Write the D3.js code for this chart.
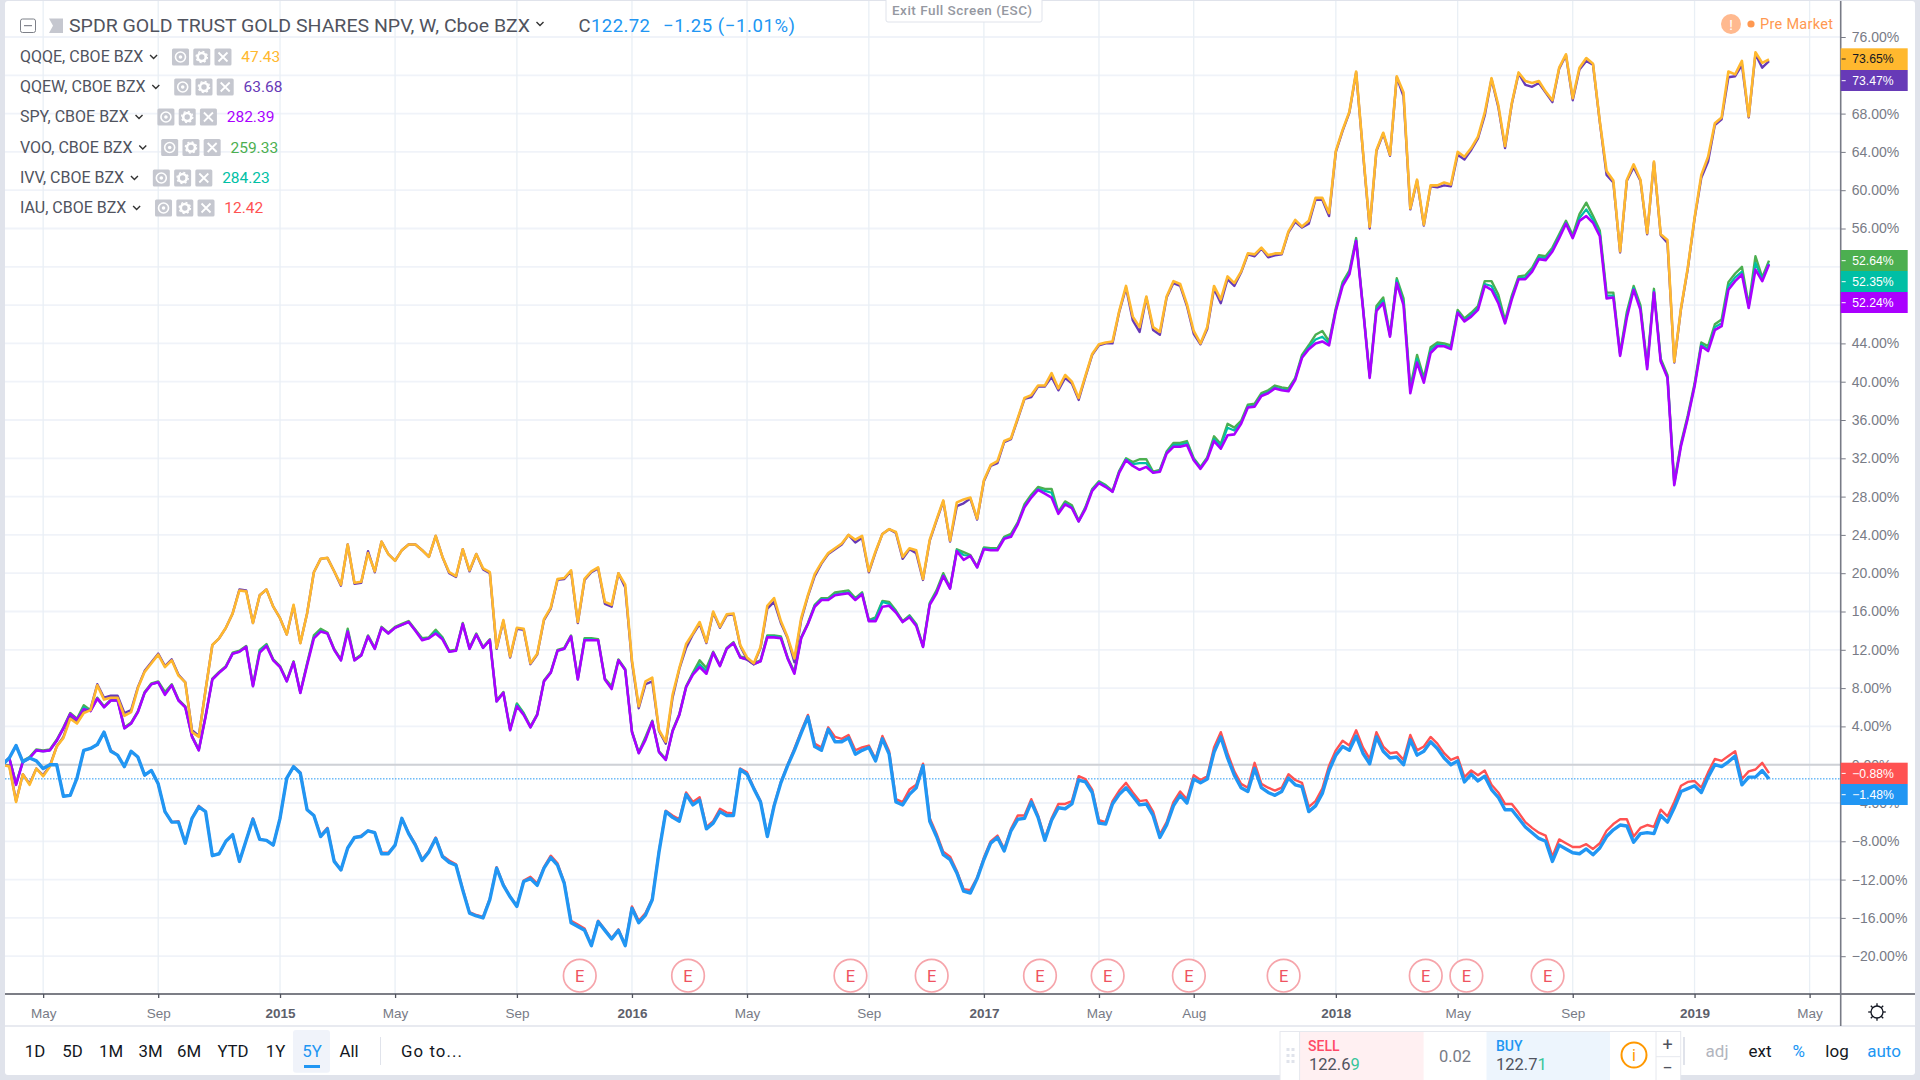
<!DOCTYPE html>
<html><head><meta charset="utf-8">
<script src="https://cdn.jsdelivr.net/npm/d3@7/dist/d3.min.js"></script>
<style>html,body{margin:0;padding:0;background:#e0e3eb;overflow:hidden}svg{display:block}text{font-family:"Liberation Sans",Arial,sans-serif}.r{font-family:Roboto,sans-serif}</style>
</head><body><svg id="c" width="1920" height="1080"></svg>
<script>
const firstWeek="2014-03-24";
const qqqe=[0,-0.2,-3.9,-1.0,-2.1,-0.4,-1.2,-0.2,1.9,2.8,4.8,4.3,5.4,5.7,8.3,6.8,7.0,7.0,5.1,5.5,8.0,
9.7,10.6,11.5,10.2,10.9,9.3,8.6,3.4,2.9,7.8,12.5,13.2,14.3,15.8,18.2,18.1,14.8,17.7,18.3,16.5,
15.3,13.6,16.7,12.7,15.8,20.1,21.5,21.6,20.2,18.8,23.0,19.0,19.1,22.1,20.2,23.3,22.0,21.3,22.4,23.0,
23.0,22.4,21.7,23.9,21.7,20.1,19.7,22.5,20.3,22.0,20.5,20.1,12.2,15.1,11.3,14.3,14.2,10.6,11.6,15.2,
16.4,19.4,19.5,20.3,14.9,19.4,20.2,20.6,17.0,16.7,20.0,18.8,10.9,6.1,8.7,9.1,3.6,2.4,7.3,10.1,
12.6,13.7,14.9,12.8,16.0,14.4,15.7,15.8,12.5,11.2,10.6,12.3,16.6,17.4,15.0,13.3,11.1,15.3,17.7,19.9,
21.1,22.1,22.6,23.1,24.0,23.5,23.9,20.2,22.3,24.1,24.6,24.3,21.7,22.6,22.4,19.4,23.5,25.6,27.6,23.4,
27.4,27.7,27.9,25.7,29.7,31.3,31.7,33.8,34.1,36.2,38.3,38.6,39.6,39.6,40.9,39.3,40.7,40.0,38.3,40.6,
42.9,43.9,44.1,44.2,47.4,50.0,46.8,45.7,48.9,45.7,45.2,48.9,50.5,50.2,48.1,45.3,44.0,45.7,50.0,48.6,
51.0,50.3,51.5,53.4,53.3,54.0,53.2,53.4,53.4,55.7,56.9,56.2,56.8,59.2,59.2,57.6,64.1,66.3,68.2,72.4,
64.1,56.2,64.2,66.0,63.7,71.9,70.2,58.1,61.1,56.4,60.5,60.5,60.8,60.6,64.0,63.5,64.4,65.6,68.1,71.7,
68.9,64.6,69.1,72.3,71.4,71.2,71.4,70.3,69.4,72.8,74.2,69.6,72.8,73.8,73.2,67.2,62.0,61.0,53.6,61.1,
62.7,61.1,55.5,63.0,55.4,54.8,42.1,47.7,51.9,57.1,61.6,63.5,67.0,67.6,72.4,72.1,73.5,67.7,74.4,73.3,73.65];
const qqew=[0,-0.1,-3.8,-1.0,-2.0,-0.4,-1.1,-0.1,1.9,2.9,5.0,4.4,5.5,5.8,8.4,7.0,7.2,7.2,5.4,5.7,8.1,
9.8,10.7,11.6,10.3,11.0,9.4,8.6,3.6,3.0,7.8,12.5,13.2,14.3,15.8,18.3,18.2,14.8,17.7,18.3,16.5,
15.3,13.6,16.6,12.7,15.8,20.1,21.5,21.6,20.2,18.7,23.0,18.9,19.0,22.3,20.1,23.3,22.0,21.3,22.4,23.0,
23.0,22.4,21.7,23.9,21.7,20.0,19.6,22.5,20.2,22.0,20.4,20.0,12.1,15.0,11.2,14.2,14.1,10.5,11.5,15.1,
16.3,19.3,19.4,20.2,14.8,19.3,20.1,20.5,16.8,16.5,20.0,18.5,10.7,5.9,8.4,8.7,3.5,2.2,7.0,10.0,
12.2,13.6,14.7,12.7,15.9,14.3,15.6,15.7,12.4,11.0,10.5,12.2,16.3,17.0,14.8,13.2,10.7,15.1,17.6,19.7,
21.0,22.0,22.5,23.0,24.0,23.2,23.7,20.1,22.2,24.1,24.6,24.2,21.5,22.5,22.1,19.3,23.4,25.5,27.5,23.3,
27.0,27.3,27.8,25.6,29.6,31.2,31.5,33.7,34.0,36.1,38.2,38.4,39.5,39.5,40.5,39.1,40.4,39.8,38.1,40.5,
42.8,43.8,44.0,44.0,47.3,49.8,46.4,45.2,48.8,45.4,44.9,48.8,50.3,50.0,47.9,45.0,43.9,45.5,49.7,48.2,
50.7,50.0,51.4,53.3,53.1,53.9,53.0,53.2,53.3,55.6,56.7,56.1,56.5,59.0,59.0,57.3,64.0,66.2,68.1,72.3,
64.0,56.0,64.1,65.9,63.6,71.8,69.8,58.0,61.0,56.3,60.4,60.3,60.5,60.4,63.7,63.2,64.2,65.4,67.8,71.6,
68.7,64.4,69.0,72.2,71.0,70.8,71.2,70.2,69.2,72.7,74.1,69.4,72.6,73.5,73.1,67.1,61.6,60.8,53.5,61.0,
62.4,61.0,55.4,62.9,55.3,54.5,42.0,47.6,51.8,57.0,61.3,63.0,66.8,67.4,71.8,71.9,73.1,67.6,74.2,72.8,73.47];
const spy=[0,0.7,-2.1,0.3,0.7,1.5,1.4,1.5,2.5,3.8,5.3,4.7,5.8,5.6,6.9,6.0,6.7,6.7,3.8,4.3,5.5,
7.5,8.4,8.6,7.3,8.3,6.7,6.0,2.9,1.5,5.0,8.9,9.6,10.2,11.6,11.8,12.3,8.2,11.7,12.4,10.9,
10.2,8.7,10.7,7.5,10.4,13.2,13.9,13.7,12.0,10.9,13.9,10.9,11.4,13.4,12.1,14.3,13.7,14.3,14.6,14.9,
14.0,13.0,13.2,13.7,13.1,11.8,11.9,14.7,12.1,13.6,12.2,13.0,6.6,7.5,3.6,6.1,5.2,3.9,5.2,8.7,
9.6,11.9,12.1,13.4,8.9,13.0,13.0,13.0,8.9,7.9,10.9,9.9,3.4,1.2,2.6,4.5,1.3,0.5,3.5,5.2,
8.1,9.4,10.2,9.5,11.7,10.3,12.1,12.7,11.2,11.0,10.5,10.8,13.3,13.3,13.2,11.1,9.5,13.2,14.7,16.5,
17.2,17.2,17.7,17.8,17.9,17.2,17.8,15.0,15.0,16.5,16.6,15.9,14.9,15.4,14.5,12.3,16.7,17.9,19.7,18.4,
22.3,21.4,21.8,20.6,22.5,22.4,22.4,23.6,23.8,25.1,26.9,27.9,28.7,28.3,27.9,26.2,27.2,26.8,25.4,26.7,
28.6,29.4,29.0,28.5,30.5,31.8,31.2,30.8,31.1,30.5,30.6,32.5,33.2,33.2,33.4,31.8,30.9,31.9,33.8,33.0,
34.4,34.5,35.6,37.3,37.4,38.5,38.8,39.3,39.1,39.0,40.2,42.5,43.4,44.0,44.2,43.8,47.4,50.0,51.2,54.7,
47.7,40.4,47.4,48.2,44.7,50.3,48.0,38.8,42.0,39.9,43.0,43.7,43.7,43.4,47.2,46.3,46.8,47.5,50.0,49.6,
48.2,46.1,48.6,50.7,50.7,51.5,52.8,52.7,53.6,55.0,56.5,55.0,56.8,57.3,56.6,55.2,48.7,48.8,42.7,46.7,
49.6,47.5,41.3,49.3,42.1,40.4,29.2,33.3,36.2,39.5,43.7,43.2,45.4,45.8,49.6,50.5,51.2,47.7,51.7,50.5,52.24];
const voo=[0,0.7,-2.0,0.4,0.8,1.6,1.5,1.6,2.6,3.9,5.4,4.8,6.2,5.7,7.0,6.1,6.8,6.8,3.9,4.4,5.6,
7.6,8.5,8.7,7.6,8.4,6.8,6.1,3.0,1.6,5.1,9.0,9.7,10.3,11.7,11.9,12.4,8.3,12.0,12.6,11.0,
10.3,8.8,10.8,7.6,10.6,13.5,14.2,13.8,12.1,11.0,14.2,11.0,11.5,13.5,12.2,14.4,13.8,14.4,14.7,15.0,
14.1,13.2,13.3,14.1,13.3,11.9,12.0,14.8,12.2,13.7,12.3,13.1,6.7,7.6,3.7,6.4,5.4,4.0,5.3,8.8,
9.7,12.0,12.2,13.5,9.0,13.2,13.2,13.1,9.0,8.2,11.0,10.0,3.5,1.3,2.9,4.6,1.4,0.6,3.6,5.3,
8.2,9.6,10.9,10.1,11.8,10.4,12.2,12.8,11.3,11.1,10.6,10.9,13.5,13.5,13.4,11.2,9.7,13.3,14.8,16.7,
17.4,17.4,18.0,18.1,18.2,17.4,18.0,15.1,15.4,17.1,17.0,16.1,15.0,15.6,14.7,12.4,16.9,18.2,20.0,18.5,
22.5,22.2,21.9,20.7,22.7,22.6,22.6,23.8,24.1,25.3,27.2,28.2,29.0,28.8,28.8,26.4,27.5,27.1,25.5,26.9,
28.8,29.6,29.2,28.6,30.7,32.0,31.6,31.9,31.9,30.6,30.8,32.7,33.6,33.6,33.8,32.0,31.1,32.1,34.3,33.5,
35.6,35.2,35.9,37.6,37.7,38.8,39.1,39.6,39.4,39.3,40.4,42.8,43.8,44.9,45.3,44.2,47.7,50.4,51.6,55.0,
47.9,40.6,47.9,48.8,44.9,50.8,48.7,39.4,42.8,40.4,43.6,44.1,44.0,43.8,47.5,46.6,47.2,47.9,50.5,50.5,
49.1,46.4,49.0,51.0,51.1,51.9,53.2,53.1,54.0,55.4,56.8,55.3,57.5,58.7,57.3,55.8,49.3,49.3,43.0,47.3,
50.0,48.0,41.7,49.7,42.4,40.7,29.5,33.6,36.5,39.8,44.1,43.7,46.0,46.5,50.4,51.3,52.0,48.0,53.1,50.9,52.64];
const ivv=[0,0.7,-2.0,0.3,0.7,1.5,1.4,1.5,2.5,3.8,5.3,4.7,6.0,5.6,6.9,6.0,6.7,6.7,3.8,4.3,5.5,
7.5,8.4,8.6,7.4,8.3,6.7,6.0,2.9,1.5,5.0,8.9,9.6,10.2,11.6,11.8,12.3,8.2,11.9,12.5,10.9,
10.2,8.7,10.7,7.5,10.5,13.3,14.0,13.7,12.0,10.9,14.0,10.9,11.4,13.4,12.1,14.3,13.7,14.3,14.6,14.9,
14.0,13.1,13.2,13.9,13.2,11.8,11.9,14.7,12.1,13.6,12.2,13.0,6.6,7.5,3.6,6.3,5.3,3.9,5.2,8.7,
9.6,11.9,12.1,13.4,8.9,13.1,13.1,13.0,8.9,8.0,10.9,9.9,3.4,1.2,2.7,4.5,1.3,0.5,3.5,5.2,
8.1,9.5,10.5,9.8,11.7,10.3,12.1,12.7,11.2,11.0,10.5,10.8,13.4,13.4,13.3,11.1,9.6,13.2,14.7,16.6,
17.3,17.3,17.8,17.9,18.0,17.3,17.9,15.0,15.3,17.0,16.8,16.0,14.9,15.5,14.6,12.3,16.8,18.0,19.8,18.4,
22.4,21.9,21.8,20.6,22.6,22.5,22.5,23.7,23.9,25.2,27.0,28.0,28.8,28.6,28.4,26.3,27.3,26.9,25.4,26.8,
28.7,29.5,29.1,28.5,30.6,31.9,31.4,31.5,31.5,30.5,30.7,32.6,33.4,33.4,33.6,31.9,31.0,32.0,34.0,33.3,
35.2,34.9,35.7,37.4,37.5,38.6,38.9,39.4,39.2,39.1,40.3,42.6,43.6,44.4,44.7,44.0,47.5,50.2,51.4,54.8,
47.8,40.5,47.6,48.5,44.8,50.6,48.3,39.1,42.4,40.1,43.3,43.9,43.8,43.6,47.3,46.4,47.0,47.7,50.2,50.0,
48.6,46.2,48.8,50.8,50.9,51.7,53.0,52.9,53.8,55.2,56.6,55.1,57.1,58.0,56.9,55.5,49.0,49.0,42.8,47.0,
49.8,47.7,41.5,49.5,42.2,40.5,29.3,33.4,36.3,39.6,43.9,43.4,45.7,46.1,50.0,50.9,51.5,47.8,52.4,50.7,52.35];
const iau=[0,0.7,2.0,0.3,0.7,0.4,-0.4,0.0,0.0,-3.3,-3.2,-1.4,1.5,1.7,2.1,3.4,1.5,1.0,-0.2,1.4,0.8,
-1.1,-0.6,-2.0,-4.9,-6.0,-5.9,-8.2,-5.6,-4.3,-4.9,-9.5,-9.3,-8.0,-7.3,-10.1,-7.9,-5.6,-7.8,-7.9,-8.4,
-5.6,-1.4,-0.2,-0.8,-4.7,-5.3,-7.4,-6.6,-10.0,-11.0,-8.7,-7.6,-7.4,-6.9,-7.1,-9.2,-9.2,-8.4,-5.6,-7.1,
-8.3,-9.9,-9.0,-7.6,-9.5,-10.0,-10.4,-13.0,-15.4,-15.7,-15.9,-14.0,-10.7,-12.5,-13.8,-14.7,-12.1,-11.7,-12.4,-10.7,
-9.5,-10.3,-12.3,-16.3,-16.7,-17.1,-18.8,-16.3,-17.2,-18.1,-17.2,-18.8,-14.8,-16.3,-15.5,-14.0,-9.0,-4.8,-5.3,-5.7,
-2.9,-3.9,-3.4,-6.5,-5.9,-4.6,-5.0,-5.1,-0.4,-0.8,-2.4,-3.8,-7.4,-4.2,-1.8,0.0,1.7,3.5,5.2,2.2,
1.8,3.9,2.9,2.7,3.1,1.5,1.8,2.0,0.6,3.0,1.4,-3.6,-3.9,-2.6,-2.1,0.1,-5.6,-7.2,-9.1,-9.6,
-11.1,-13.0,-13.1,-11.8,-9.7,-8.0,-7.4,-8.8,-6.7,-5.3,-5.3,-3.6,-5.3,-7.7,-5.6,-4.1,-4.1,-3.8,-1.2,-1.5,
-2.6,-5.8,-6.0,-3.8,-2.7,-1.9,-2.9,-3.8,-3.7,-4.9,-7.3,-6.0,-3.9,-2.8,-3.6,-1.1,-1.6,-1.2,1.8,3.4,
1.2,-0.7,-2.0,-2.4,0.2,-2.0,-2.4,-2.7,-2.4,-1.0,-1.6,-1.9,-4.4,-3.8,-2.5,-0.1,1.5,2.5,2.0,3.6,
1.8,0.6,3.4,1.9,1.2,1.3,0.5,3.1,1.5,1.9,2.9,2.2,1.2,0.5,0.8,-1.3,-0.6,-1.1,-0.6,-2.1,
-2.9,-4.1,-4.1,-5.0,-6.0,-6.6,-7.1,-7.4,-9.6,-7.8,-8.2,-8.6,-8.6,-8.3,-8.8,-8.2,-6.9,-6.2,-5.7,-5.7,
-7.5,-6.6,-6.3,-6.5,-4.7,-5.4,-3.9,-2.2,-1.8,-1.7,-2.4,-0.8,0.6,0.4,0.9,1.4,-1.5,-0.7,-0.5,0.2,-0.88];
const gld=[0,0.7,2.0,0.3,0.7,0.4,-0.4,0.0,0.0,-3.3,-3.2,-1.4,1.5,1.7,2.1,3.4,1.4,1.0,-0.2,1.4,0.8,
-1.1,-0.6,-2.0,-4.9,-6.0,-6.0,-8.2,-5.6,-4.4,-4.9,-9.5,-9.3,-8.0,-7.3,-10.1,-7.9,-5.7,-7.8,-7.9,-8.4,
-5.6,-1.4,-0.2,-0.9,-4.7,-5.3,-7.5,-6.7,-10.1,-11.0,-8.7,-7.6,-7.5,-6.9,-7.1,-9.3,-9.3,-8.4,-5.6,-7.2,
-8.4,-10.0,-9.1,-7.7,-9.6,-10.2,-10.5,-13.1,-15.5,-15.8,-16.0,-14.1,-10.8,-12.6,-13.8,-14.8,-12.2,-11.9,-12.6,-10.8,
-9.7,-10.5,-12.4,-16.5,-16.9,-17.3,-18.9,-16.4,-17.3,-18.2,-17.3,-18.9,-15.0,-16.5,-15.7,-14.1,-9.1,-4.9,-5.5,-5.9,
-3.1,-4.2,-3.7,-6.7,-6.1,-4.9,-5.3,-5.3,-0.5,-1.0,-2.5,-3.9,-7.5,-4.3,-1.9,-0.1,1.5,3.3,5.0,1.9,
1.5,3.7,2.4,2.4,2.8,1.1,1.5,1.8,0.4,2.7,1.1,-3.9,-4.2,-3.1,-2.4,-0.1,-5.9,-7.5,-9.4,-9.9,
-11.3,-13.2,-13.4,-11.9,-9.9,-8.2,-7.6,-9.0,-6.9,-5.7,-5.6,-3.9,-5.5,-7.9,-5.8,-4.5,-4.6,-4.1,-1.6,-1.8,
-2.9,-6.1,-6.2,-4.1,-3.1,-2.4,-3.3,-4.2,-4.1,-5.3,-7.6,-6.3,-4.3,-3.2,-4.0,-1.5,-1.9,-1.5,1.3,2.9,
0.7,-1.1,-2.4,-2.8,-0.4,-2.4,-2.9,-3.2,-2.8,-1.4,-2.1,-2.3,-4.9,-4.3,-3.0,-0.6,1.0,1.9,1.5,3.0,
1.2,0.1,2.9,1.4,0.7,0.8,0.0,2.6,1.0,1.4,2.4,1.7,0.7,0.0,0.4,-1.8,-1.0,-1.7,-1.2,-2.6,
-3.4,-4.7,-4.7,-5.6,-6.5,-7.1,-7.7,-8.0,-10.1,-8.4,-8.8,-9.2,-9.3,-8.8,-9.4,-8.7,-7.5,-6.8,-6.3,-6.4,
-8.1,-7.2,-7.1,-7.2,-5.3,-6.0,-4.5,-2.8,-2.5,-2.2,-2.9,-1.3,0.0,-0.2,0.3,0.9,-2.1,-1.3,-1.3,-0.6,-1.48];
const yTicks=[-20,-16,-12,-8,-4,0,4,8,12,16,20,24,28,32,36,40,44,48,52,56,60,64,68,72,76];
const coveredTicks=[48,52,72];
const xTickDates=["2014-05-05","2014-09-01","2015-01-05","2015-05-04","2015-09-07","2016-01-04","2016-05-02","2016-09-05","2017-01-02","2017-05-01","2017-08-07","2018-01-01","2018-05-07","2018-09-03","2019-01-07","2019-05-06"];
const xTickLabels=["May","Sep","2015","May","Sep","2016","May","Sep","2017","May","Aug","2018","May","Sep","2019","May"];
const earningsDates=["2015-11-11","2016-03-02","2016-08-17","2016-11-09","2017-03-01","2017-05-10","2017-08-02","2017-11-08","2018-04-04","2018-05-16","2018-08-08"];
const legendNames=["QQQE, CBOE BZX","QQEW, CBOE BZX","SPY, CBOE BZX","VOO, CBOE BZX","IVV, CBOE BZX","IAU, CBOE BZX"];
const legendValues=["47.43","63.68","282.39","259.33","284.23","12.42"];
const legendColors=["#ffb82e","#673ab7","#aa00ff","#4caf50","#00bfa5","#ff5252"];
const priceLabels=["73.65%","73.47%","52.64%","52.35%","52.24%","-0.88%","-1.48%"];
const rangeButtons=["1D","5D","1M","3M","6M","YTD","1Y","5Y","All"];

const svg=d3.select("#c");
const parse=d3.utcParse("%Y-%m-%d");
const start=parse(firstWeek);
const weekDate=i=>d3.utcDay.offset(start,7*i);
const L={left:5,right:1840.7,top:1,bottom:994,strip:1026,edge:1915,foot:1075};
const x=d3.scaleUtc().domain([weekDate(1),weekDate(261)]).range([9.3,1769]);
const y=d3.scaleLinear().domain([-20,76]).range([956.2,37]);

svg.append("rect").attr("x",L.left).attr("y",L.top).attr("width",L.edge-L.left).attr("height",L.foot-L.top).attr("fill","#fff").attr("rx",3);
const defs=svg.append("defs");
defs.append("clipPath").attr("id","pl").append("rect").attr("x",L.left).attr("y",L.top).attr("width",L.right-L.left).attr("height",L.bottom-L.top);

// grid
const grid=svg.append("g");
grid.selectAll(".h").data(yTicks).join("line").attr("x1",L.left).attr("x2",L.right).attr("y1",d=>y(d)).attr("y2",d=>y(d)).attr("stroke","#f0f3f9").attr("stroke-width",1.8);
grid.selectAll(".v").data(xTickDates).join("line").attr("x1",d=>x(parse(d))).attr("x2",d=>x(parse(d))).attr("y1",L.top).attr("y2",L.bottom).attr("stroke","#e9eff5").attr("stroke-width",1.3);
grid.append("line").attr("x1",L.left).attr("x2",L.right).attr("y1",y(0)).attr("y2",y(0)).attr("stroke","#cfd1d6").attr("stroke-width",2);
grid.append("line").attr("x1",L.left).attr("x2",L.right).attr("y1",y(-1.48)).attr("y2",y(-1.48)).attr("stroke","#2196f3").attr("stroke-width",1).attr("stroke-dasharray","1.5 1.5");

// lines
const line=d3.line().x((d,i)=>x(weekDate(i))).y(d=>y(d));
const plot=svg.append("g").attr("clip-path","url(#pl)");
[[voo,"#4caf50",2.4],[ivv,"#00bfa5",2.2],[spy,"#aa00ff",2.6],[qqew,"#673ab7",2.4],[qqqe,"#ffb82e",2.6],[iau,"#ff5252",2.4],[gld,"#2196f3",3.4]].forEach(s=>{
  plot.append("path").datum(s[0]).attr("d",line).attr("fill","none").attr("stroke",s[1]).attr("stroke-width",s[2]).attr("stroke-linejoin","round");
});

// earnings
const eg=svg.append("g").selectAll("g").data(earningsDates).join("g").attr("transform",d=>`translate(${x(parse(d))},975.7)`);
eg.append("circle").attr("r",16.3).attr("fill","#fff").attr("stroke","#f6a5ab").attr("stroke-width",1.7);
eg.append("text").attr("class","r").attr("text-anchor","middle").attr("dy",5.8).attr("font-size",16.5).attr("fill","#ef5361").text("E");

// axes
const xAxis=d3.axisBottom(x).tickValues(xTickDates.map(parse)).tickSize(4).tickPadding(10).tickFormat((d,i)=>xTickLabels[i]);
const gx=svg.append("g").attr("transform",`translate(0,${L.bottom})`).call(xAxis);
gx.select(".domain").remove();
gx.selectAll("line").attr("stroke","#50535e").attr("stroke-width",1.3);
gx.selectAll("text").attr("font-size",13.5).attr("font-weight",(d,i)=>/^\d/.test(xTickLabels[i])?"700":"400").attr("fill",(d,i)=>/^\d/.test(xTickLabels[i])?"#5d606b":"#787b86");
svg.append("line").attr("x1",L.left).attr("x2",L.edge).attr("y1",L.bottom).attr("y2",L.bottom).attr("stroke","#50535e").attr("stroke-width",1.4);
svg.append("line").attr("x1",L.left).attr("x2",L.edge).attr("y1",L.strip).attr("y2",L.strip).attr("stroke","#e0e3eb").attr("stroke-width",1.4);
const yAxis=d3.axisRight(y).tickValues(yTicks).tickSize(5).tickPadding(6).tickFormat(d=>coveredTicks.includes(d)?"":(d<0?"\u2212":"")+Math.abs(d).toFixed(2)+"%");
const gy=svg.append("g").attr("transform",`translate(${L.right},0)`).call(yAxis);
gy.select(".domain").remove();
gy.selectAll("line").attr("stroke","#787b86");
gy.selectAll("text").attr("font-size",14).attr("fill","#787b86");
svg.append("line").attr("x1",L.right).attr("x2",L.right).attr("y1",L.top).attr("y2",L.strip).attr("stroke","#787b86").attr("stroke-width",1.6);

// price labels
const boxTop=[48.3,70,250,271,292,762.7,784], boxH=[21.7,21,21,21,21,21.3,21];
const boxCol=["#ffb82e","#673ab7","#4caf50","#00bfa5","#aa00ff","#ff5252","#2196f3"];
const pl=svg.append("g").selectAll("g").data(priceLabels).join("g").attr("transform",(d,i)=>`translate(${L.right},${boxTop[i]})`);
pl.append("rect").attr("width",67).attr("height",(d,i)=>boxH[i]).attr("fill",(d,i)=>boxCol[i]);
pl.append("line").attr("x1",1).attr("x2",5).attr("y1",10.7).attr("y2",10.7).attr("stroke",(d,i)=>i==0?"#222":"#fff").attr("stroke-width",1);
pl.append("text").attr("x",11.5).attr("y",15).attr("font-size",12.2).attr("fill",(d,i)=>i==0?"#131722":"#fff").text(d=>d.replace("-","\u2212"));

// header
const hdr=svg.append("g");
hdr.append("rect").attr("x",20.5).attr("y",19).attr("width",15).attr("height",13.5).attr("rx",2).attr("fill","#fff").attr("stroke","#7d8088");
hdr.append("line").attr("x1",24).attr("x2",32).attr("y1",25.7).attr("y2",25.7).attr("stroke","#6a6d78");
hdr.append("path").attr("d","M49 18.5H63V33H49L53 25.7Z").attr("fill","#c5c7cf");
hdr.append("text").attr("class","r").attr("x",69).attr("y",32).attr("font-size",18.5).attr("textLength",461).attr("lengthAdjust","spacingAndGlyphs").attr("fill","#50535e").text("SPDR GOLD TRUST GOLD SHARES NPV, W, Cboe BZX");
const chev=(g,cx,cy)=>g.append("path").attr("d",`M${cx-3.5} ${cy-2}L${cx} ${cy+1.5}L${cx+3.5} ${cy-2}`).attr("fill","none").attr("stroke","#333").attr("stroke-width",1.4);
chev(hdr,540,24);
hdr.append("text").attr("class","r").attr("x",578.5).attr("y",32).attr("font-size",18.5).attr("fill","#50535e").text("C");
hdr.append("text").attr("class","r").attr("x",591).attr("y",32).attr("font-size",18.5).attr("textLength",59).attr("fill","#2196f3").text("122.72");
hdr.append("text").attr("class","r").attr("x",663).attr("y",32).attr("font-size",18.5).attr("textLength",132).attr("fill","#2196f3").text("\u22121.25 (\u22121.01%)");

const rowY=[57,87,117,147.5,178,208];
legendNames.forEach((n,i)=>{
  const g=svg.append("g");
  const t=g.append("text").attr("class","r").attr("x",20).attr("y",rowY[i]+5.3).attr("font-size",16).attr("fill","#50535e").text(n);
  const w=t.node().getComputedTextLength();
  const e=20+w;
  chev(g,e+10.3,rowY[i]);
  [28.7,50,71.2].forEach((o,k)=>{
    const cx=e+o+8.5;
    g.append("rect").attr("x",e+o).attr("y",rowY[i]-8.5).attr("width",17).attr("height",17).attr("rx",1.5).attr("fill","#c5c7cf");
    if(k==0){g.append("circle").attr("cx",cx).attr("cy",rowY[i]).attr("r",5).attr("fill","none").attr("stroke","#fff").attr("stroke-width",1.6);g.append("circle").attr("cx",cx).attr("cy",rowY[i]).attr("r",1.8).attr("fill","#fff");}
    if(k==1){g.append("circle").attr("cx",cx).attr("cy",rowY[i]).attr("r",4).attr("fill","none").attr("stroke","#fff").attr("stroke-width",2.6);g.append("circle").attr("cx",cx).attr("cy",rowY[i]).attr("r",5.6).attr("fill","none").attr("stroke","#fff").attr("stroke-width",1.4).attr("stroke-dasharray","2 2.4");}
    if(k==2){g.append("path").attr("d",`M${cx-4.5} ${rowY[i]-4.5}L${cx+4.5} ${rowY[i]+4.5}M${cx+4.5} ${rowY[i]-4.5}L${cx-4.5} ${rowY[i]+4.5}`).attr("stroke","#fff").attr("stroke-width",1.8);}
  });
  g.append("text").attr("class","r").attr("x",e+98).attr("y",rowY[i]+5.3).attr("font-size",15.5).attr("fill",legendColors[i]).text(legendValues[i]);
});

// exit full screen
svg.append("rect").attr("x",886).attr("y",-2).attr("width",156).attr("height",24).attr("rx",2).attr("fill","#fff").attr("stroke","#e0e3eb");
svg.append("text").attr("class","r").attr("x",892).attr("y",14.5).attr("font-size",13.5).attr("font-weight",500).attr("textLength",140).attr("fill","#9598a1").text("Exit Full Screen (ESC)");

// pre market
svg.append("circle").attr("cx",1731).attr("cy",24).attr("r",10).attr("fill","#ffb98f");
svg.append("text").attr("x",1731).attr("y",29.5).attr("text-anchor","middle").attr("font-size",15).attr("fill","#fff").text("!");
svg.append("circle").attr("cx",1751).attr("cy",24).attr("r",3.6).attr("fill","#ff9850");
svg.append("text").attr("class","r").attr("x",1760).attr("y",29).attr("font-size",14.5).attr("textLength",73).attr("fill","#ff9850").text("Pre Market");

// gear
const gear=svg.append("g").attr("transform","translate(1877,1012)");
gear.append("circle").attr("r",6).attr("fill","none").attr("stroke","#131722").attr("stroke-width",1.3);
d3.range(8).forEach(k=>{const a=k*Math.PI/4;gear.append("line").attr("x1",6*Math.cos(a)).attr("y1",6*Math.sin(a)).attr("x2",8.8*Math.cos(a)).attr("y2",8.8*Math.sin(a)).attr("stroke","#131722").attr("stroke-width",1.3);});

// range buttons
const btnX=[35,72.5,111,150.6,189,233,275.5,312,349];
svg.append("rect").attr("x",293).attr("y",1030).attr("width",37).attr("height",42.7).attr("rx",3).attr("fill","#f0f3fa");
svg.append("rect").attr("x",304).attr("y",1065).attr("width",16).attr("height",3).attr("fill","#2196f3");
svg.append("g").selectAll("text").data(rangeButtons).join("text").attr("class","r").attr("x",(d,i)=>btnX[i]).attr("y",1056.5).attr("text-anchor","middle").attr("font-size",16.8).attr("fill",d=>d=="5Y"?"#2196f3":"#131722").text(d=>d);
svg.append("line").attr("x1",380.5).attr("x2",380.5).attr("y1",1037).attr("y2",1065).attr("stroke","#e0e3eb");
svg.append("text").attr("class","r").attr("x",401).attr("y",1056.5).attr("font-size",16.8).attr("textLength",61).attr("fill","#131722").text("Go to...");

// trade panel
const tp=svg.append("g");
tp.append("rect").attr("x",1280).attr("y",1031.5).attr("width",400.7).attr("height",50).attr("fill","#fff").attr("stroke","#e6e8ee");
tp.append("rect").attr("x",1299.6).attr("y",1032).attr("width",124).attr("height",48).attr("fill","#fff0f2");
tp.append("rect").attr("x",1486.5).attr("y",1032).attr("width",123.5).attr("height",48).attr("fill","#edf5fd");
d3.range(3).forEach(r=>d3.range(2).forEach(c=>tp.append("rect").attr("x",1286.5+c*5).attr("y",1048+r*6).attr("width",3).attr("height",3).attr("fill","#e0e3eb")));
tp.append("line").attr("x1",1299.6).attr("x2",1299.6).attr("y1",1032).attr("y2",1080).attr("stroke","#e6e8ee");
tp.append("line").attr("x1",1656).attr("x2",1656).attr("y1",1032).attr("y2",1080).attr("stroke","#e6e8ee");
tp.append("line").attr("x1",1656).attr("x2",1680).attr("y1",1056.7).attr("y2",1056.7).attr("stroke","#e6e8ee");
tp.append("text").attr("class","r").attr("x",1308).attr("y",1051).attr("font-size",14).attr("font-weight",500).attr("fill","#ff4a68").text("SELL");
const sell=tp.append("text").attr("class","r").attr("x",1309).attr("y",1070).attr("font-size",16.5).attr("fill","#50535e");sell.append("tspan").text("122.6");sell.append("tspan").attr("fill","#37c59a").text("9");
tp.append("text").attr("class","r").attr("x",1455).attr("y",1062).attr("text-anchor","middle").attr("font-size",16.5).attr("fill","#787b86").text("0.02");
tp.append("text").attr("class","r").attr("x",1496).attr("y",1051).attr("font-size",14).attr("font-weight",500).attr("fill","#2196f3").text("BUY");
const buy=tp.append("text").attr("class","r").attr("x",1496).attr("y",1070).attr("font-size",16.5).attr("fill","#50535e");buy.append("tspan").text("122.7");buy.append("tspan").attr("fill","#37c59a").text("1");
tp.append("circle").attr("cx",1634).attr("cy",1055).attr("r",12.5).attr("fill","none").attr("stroke","#ff9800").attr("stroke-width",2);
tp.append("text").attr("class","r").attr("x",1634).attr("y",1061).attr("text-anchor","middle").attr("font-size",16).attr("fill","#ff9800").text("i");
tp.append("text").attr("class","r").attr("x",1667.5).attr("y",1051).attr("text-anchor","middle").attr("font-size",18).attr("fill","#50535e").text("+");
tp.append("text").attr("class","r").attr("x",1667.5).attr("y",1074).attr("text-anchor","middle").attr("font-size",18).attr("fill","#50535e").text("\u2212");
svg.append("rect").attr("x",1683).attr("y",1037).attr("width",2).attr("height",28).attr("fill","#e0e3eb");

const optX=[1717,1760,1798.7,1837,1884], optL=["adj","ext","%","log","auto"], optC=["#b2b5be","#131722","#2196f3","#131722","#2196f3"];
svg.append("g").selectAll("text").data(optL).join("text").attr("class","r").attr("x",(d,i)=>optX[i]).attr("y",1056.5).attr("text-anchor","middle").attr("font-size",17).attr("fill",(d,i)=>optC[i]).text(d=>d);
</script></body></html>
